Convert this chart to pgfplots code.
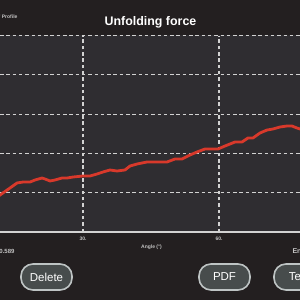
\documentclass[border=0pt]{standalone}
\usepackage{pgfplots}
\pgfplotsset{compat=1.18}
\usepackage{fontspec}
\setmainfont{Liberation Sans}
\definecolor{outerbg}{RGB}{35,31,32}
\definecolor{plotbg}{RGB}{47,45,49}
\definecolor{gridc}{RGB}{210,210,210}
\definecolor{curve}{RGB}{216,57,43}
\definecolor{btnfill}{RGB}{71,76,76}
\definecolor{btnedge}{RGB}{190,196,196}
\definecolor{smalltxt}{RGB}{195,195,195}
\pgfplotstableread{
a f
10.59 0.840
11.69 0.941
13.90 1.120
15.44 1.247
16.76 1.272
18.31 1.272
19.41 1.323
20.96 1.374
21.62 1.349
22.72 1.298
23.82 1.323
25.37 1.374
26.47 1.374
27.79 1.399
30.00 1.425
31.54 1.425
33.09 1.476
34.41 1.527
35.96 1.578
37.50 1.552
39.26 1.578
40.37 1.679
41.91 1.730
44.12 1.781
44.78 1.781
48.53 1.781
50.29 1.858
51.84 1.858
53.60 1.959
55.15 2.036
56.91 2.112
59.78 2.112
61.32 2.188
63.53 2.290
65.07 2.290
66.40 2.392
67.50 2.392
69.04 2.519
70.59 2.595
71.91 2.621
73.46 2.672
75.00 2.697
76.10 2.697
77.21 2.646
77.87 2.621
78.97 2.595
}\force
\begin{document}
\begin{tikzpicture}[x=1pt,y=1pt]
\useasboundingbox (0,0) rectangle (300,300);
\clip (0,0) rectangle (300,300);
\fill[outerbg] (0,0) rectangle (300,300);
\fill[plotbg] (0,68) rectangle (300,265);
\begin{axis}[
  at={(0pt,68pt)}, anchor=south west,
  scale only axis, width=300pt, height=196.5pt,
  xmin=11.69, xmax=77.87, ymin=0, ymax=5,
  axis line style={draw=none},
  xtick={30,60}, xticklabels={30.,60.},
  ytick={1,2,3,4,5}, yticklabels={},
  extra y ticks={0}, extra y tick labels={},
  extra y tick style={grid style={solid, gridc, line width=1.3pt}},
  major tick length=0pt,
  grid=major,
  grid style={gridc, line width=1.05pt, dash pattern=on 3.5pt off 2.8pt},
  xticklabel style={font=\bfseries\fontsize{5}{5.5}\selectfont, text=smalltxt, yshift=-1pt},
  /pgf/number format/assume math mode=true,
  clip=true,
]
\addplot[curve, line width=2.8pt, line join=round, line cap=round] table[x=a,y=f] {\force};
\end{axis}
\node[text=smalltxt, font=\bfseries\fontsize{5}{6}\selectfont, anchor=east] at (21,283) {'' Profile};
\node[text=white, font=\bfseries\fontsize{12.4}{14}\selectfont] at (150.5,278) {Unfolding force};
\node[text=smalltxt, font=\bfseries\fontsize{5}{6}\selectfont] at (151.5,53) {Angle (°)};
\node[text=smalltxt, font=\bfseries\fontsize{6}{7}\selectfont, anchor=east] at (18,49) {0.589};
\node[text=smalltxt, font=\bfseries\fontsize{7}{8}\selectfont, anchor=west] at (289,49) {End};
\foreach \cx/\lab in {46.5/Delete, 224.5/PDF, 299.5/Text}{
  \draw[btnedge, fill=btnfill, line width=1.6pt, rounded corners=12pt] (\cx-25.5,10) rectangle (\cx+25.5,36);
  \node[text=white, font=\fontsize{11.5}{13}\selectfont] at (\cx,23) {\lab};
}
\end{tikzpicture}
\end{document}
